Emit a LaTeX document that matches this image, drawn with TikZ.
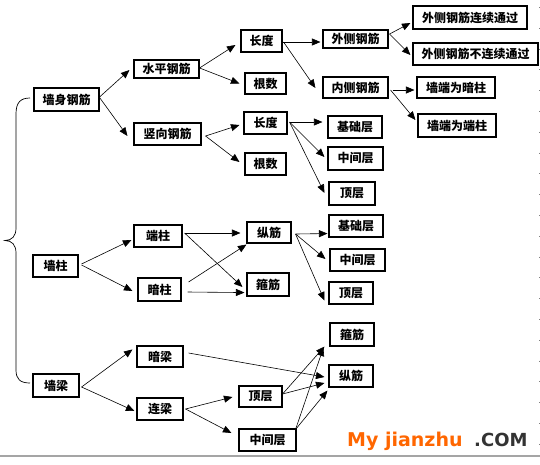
\documentclass[tikz,border=0pt]{standalone}
\usepackage{fontspec}
\newfontfamily\cjk{Noto Sans CJK SC}
\newfontfamily\wmfont{DejaVu Sans}
\usetikzlibrary{arrows.meta,calc}
\definecolor{wmorange}{RGB}{255,102,0}
\definecolor{wmgray}{RGB}{51,51,51}
\definecolor{rulegray}{RGB}{165,165,165}
\tikzset{
  box/.style={draw, line width=1.1pt, inner sep=0pt, font=\cjk\bfseries\fontsize{12}{13}\selectfont},
  bx/.style 2 args={minimum width=#1pt, minimum height=#2pt},
  arr/.style={line width=0.6pt, -{Triangle[length=8.5pt,width=7pt]}},
}
\begin{document}
\begin{tikzpicture}[x=1pt,y=-1pt]
\useasboundingbox (0,0) rectangle (540,464);
% boxes
\node[box,bx={65}{23}] (qsgj) at (66.5,99.5) {墙身钢筋};
\node[box,bx={65}{18}] (spgj) at (166.5,69) {水平钢筋};
\node[box,bx={67}{22}] (sxgj) at (167.5,134) {竖向钢筋};
\node[box,bx={41}{22}] (cd1) at (261.5,41) {长度};
\node[box,bx={41}{21}] (gs1) at (265.5,83.5) {根数};
\node[box,bx={43}{22}] (cd2) at (265.5,123) {长度};
\node[box,bx={41}{22}] (gs2) at (265.5,164) {根数};
\node[box,bx={65}{18}] (wc) at (355.5,39) {外侧钢筋};
\node[box,bx={65}{21}] (nc) at (355.5,87.5) {内侧钢筋};
\node[box,bx={114}{23}] (lx) at (470,17.5) {外侧钢筋连续通过};
\node[box,bx={125}{22}] (blx) at (475.5,54) {外侧钢筋不连续通过};
\node[box,bx={78}{21}] (azq) at (456,87.5) {墙端为暗柱};
\node[box,bx={78}{23}] (dzq) at (457,125.5) {墙端为端柱};
\node[box,bx={54}{22}] (jc1) at (355,127) {基础层};
\node[box,bx={55}{23}] (zj1) at (355.5,158.5) {中间层};
\node[box,bx={46}{23}] (dc1) at (352,193.5) {顶层};
\node[box,bx={45}{22}] (qz) at (55.5,266) {墙柱};
\node[box,bx={48}{22}] (dz) at (158,236) {端柱};
\node[box,bx={43}{23}] (az) at (159.5,289.5) {暗柱};
\node[box,bx={44}{21}] (zjn1) at (269,232.5) {纵筋};
\node[box,bx={42}{23}] (gj1) at (268,284.5) {箍筋};
\node[box,bx={54}{22}] (jc2) at (356,226) {基础层};
\node[box,bx={55}{22}] (zj2) at (357.5,260) {中间层};
\node[box,bx={44}{22}] (dc2) at (351,293) {顶层};
\node[box,bx={46}{23}] (ql) at (56,385.5) {墙梁};
\node[box,bx={46}{21}] (al) at (160,356.5) {暗梁};
\node[box,bx={46}{22}] (ll) at (160,409) {连梁};
\node[box,bx={43}{21}] (dc3) at (260.5,396.5) {顶层};
\node[box,bx={57}{22}] (zj3) at (267.5,440) {中间层};
\node[box,bx={44}{23}] (gj2) at (352,334.5) {箍筋};
\node[box,bx={44}{22}] (zjn2) at (351,376) {纵筋};
% brace
\coordinate (bt) at (30,98);
\coordinate (bm) at (5,240.5);
\coordinate (bb) at (30,383);
\draw[line width=0.7pt] (bt) .. controls (20,98) and (16,103) .. (16,114) -- (16,228)
  .. controls (16,236) and (12,240.5) .. (bm) .. controls (12,240.5) and (16,245) .. (16,253)
  -- (16,370) .. controls (16,379) and (20,383) .. (bb);
% connectors
\draw[arr] ($(qsgj.east)+(0,-2.5)$) -- ($(spgj.west)+(-4,1)$);
\draw[arr] ($(qsgj.east)+(0,-2)$) -- ($(sxgj.west)+(-6,2)$);
\draw[arr] ($(spgj.east)+(0,-1)$) -- ($(cd1.west)+(-5,4)$);
\draw[arr] ($(spgj.east)+(0,-1)$) -- ($(gs1.west)+(-5,0)$);
\draw[arr] ($(sxgj.east)+(4,2)$) -- ($(cd2.west)+(-4,2)$);
\draw[arr] ($(sxgj.east)+(4,2)$) -- ($(gs2.west)+(-5,-2)$);
\draw[arr] ($(cd1.east)+(0,1)$) -- ($(wc.west)+(-2,3)$);
\draw[arr] ($(cd1.east)+(1,1)$) -- ($(nc.west)+(-7,0.5)$);
\draw[arr] ($(wc.east)+(1,-5)$) -- ($(lx.west)+(-2,5.5)$);
\draw[arr] ($(wc.east)+(1,-5)$) -- ($(blx.west)+(-2,1)$);
\draw[arr] ($(nc.east)+(4,2.5)$) -- ($(azq.west)+(-2,2.5)$);
\draw[arr] ($(nc.east)+(2,2.5)$) -- ($(dzq.west)+(-2,-5.5)$);
\draw[arr] ($(cd2.east)+(2,-1)$) -- ($(jc1.west)+(-5,-5)$);
\draw[arr] ($(cd2.east)+(2,-1)$) -- ($(zj1.west)+(-3,-1.5)$);
\draw[arr] ($(cd2.east)+(2,-1)$) -- ($(dc1.west)+(-4,-0.5)$);
\draw[arr] ($(qz.east)+(3,-2)$) -- ($(dz.west)+(-2,4)$);
\draw[arr] ($(qz.east)+(3,-1)$) -- ($(az.west)+(-5,1.5)$);
\draw[arr] ($(dz.east)+(2,-3)$) -- ($(zjn1.west)+(-6,0.5)$);
\draw[arr] ($(dz.east)+(2,-3)$) -- ($(gj1.west)+(-4,2.5)$);
\draw[arr] ($(az.east)+(7,-7.5)$) -- ($(zjn1.south west)+(0,1)$);
\draw[arr] ($(az.east)+(6,2.5)$) -- ($(gj1.south west)+(-2,-4)$);
\draw[arr] ($(ql.east)+(2,1.5)$) -- ($(al.north west)+(-4,4)$);
\draw[arr] ($(ql.east)+(2,1.5)$) -- ($(ll.west)+(-2,2)$);
\draw[arr] ($(ll.east)+(2,0)$) -- ($(dc3.west)+(-6,0.5)$);
\draw[arr] ($(ll.east)+(2,0)$) -- ($(zj3.west)+(-7,-7)$);
\draw[arr] ($(al.east)+(5,-3.5)$) -- ($(zjn2.west)+(-4,1)$);
\draw[arr] ($(zjn1.east)+(4,1.5)$) -- ($(jc2.south west)+(-1,-4)$);
\draw[arr] ($(zjn1.east)+(4,1.5)$) -- ($(zj2.west)+(-4,-1)$);
\draw[arr] ($(zjn1.east)+(4,1.5)$) -- ($(dc2.south west)+(-4,-4)$);
\draw[arr] ($(dc3.east)+(0,-2.5)$) -- ($(gj2.south west)+(-5,0)$);
\draw[arr] ($(dc3.east)+(0,-2.5)$) -- ($(zjn2.west)+(-4,7)$);
\draw[arr] ($(zj3.north east)+(-1,1)$) -- ($(gj2.south west)+(-6,1)$);
\draw[arr] ($(zj3.north east)+(-1,1)$) -- ($(zjn2.south west)+(-1,3)$);
% page rule and right edge ticks
\draw[rulegray, line width=1.2pt] (0,456) -- (540,456);
\draw[gray, line width=0.8pt, dash pattern=on 1pt off 19.8pt] (539,7) -- (539,452);
% watermark
\node[anchor=base west, inner sep=0pt, text=wmorange, font=\wmfont\bfseries\fontsize{19}{20}\selectfont] (wm1) at (347,446.5) {My jianzhu};
\node[anchor=base west, inner sep=0pt, text=wmgray, font=\wmfont\bfseries\fontsize{18}{20}\selectfont] (wm2) at (474,446.5) {.COM};
\end{tikzpicture}
\end{document}
